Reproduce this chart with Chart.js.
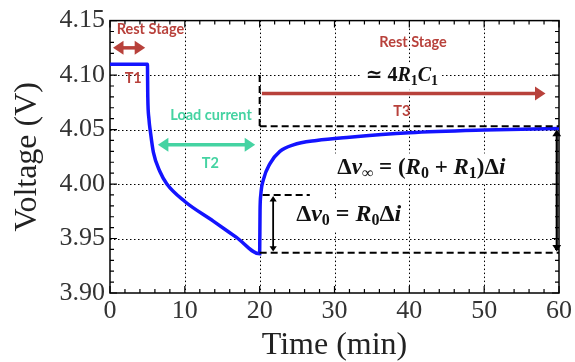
<!DOCTYPE html>
<html>
<head>
<meta charset="utf-8">
<script src="https://cdn.jsdelivr.net/npm/chart.js@4/dist/chart.umd.min.js"></script>
<style>
  html, body { margin: 0; padding: 0; background: #fff; }
  #wrap { width: 575px; height: 362px; }
</style>
</head>
<body>
<div id="wrap"><canvas id="voltChart"></canvas></div>
<script>
/************ DATA ************/
const timeMin = [0, 5, 5.05, 5.2, 5.4, 5.8, 6.7, 7.6, 10, 13.8, 16.9, 20,
  20.05, 20.15, 20.5, 21.4, 22.7, 24.5, 27.6, 32, 40, 50, 60];
const voltage = [4.11, 4.11, 4.08, 4.06, 4.048, 4.029, 4.011, 4.0, 3.984, 3.966, 3.951, 3.936,
  3.975, 3.99, 4.004, 4.019, 4.03, 4.036, 4.04, 4.043, 4.047, 4.0495, 4.051];

const xTicks = [0, 10, 20, 30, 40, 50, 60];
const yTicks = ["3.90", "3.95", "4.00", "4.05", "4.10", "4.15"];

/************ ANNOTATIONS (data units) ************/
const RED = "#b8413b";
const TEAL = "#45d3a2";
const labels = [
  { text: "Rest Stage", t: 5.4, v: 4.142, color: RED },
  { text: "T1", t: 3.1, v: 4.097, color: RED },
  { text: "Load current", t: 13.5, v: 4.063, color: TEAL },
  { text: "T2", t: 13.4, v: 4.019, color: TEAL },
  { text: "Rest Stage", t: 40.5, v: 4.130, color: RED },
  { text: "T3", t: 39.0, v: 4.067, color: RED },
];
const arrows = [
  { t1: 0.4, v1: 4.125, t2: 4.7, v2: 4.125, color: RED, width: 3.5, both: true },
  { t1: 6.4, v1: 4.036, t2: 19.4, v2: 4.036, color: TEAL, width: 3.5, both: true },
  { t1: 20.3, v1: 4.083, t2: 58.2, v2: 4.083, color: RED, width: 3.5, both: false },
  { t1: 21.8, v1: 3.989, t2: 21.8, v2: 3.938, color: "#000", width: 1.8, both: true },
  { t1: 59.7, v1: 4.050, t2: 59.7, v2: 3.938, color: "#000", width: 2.2, both: true },
];
const dashes = [
  [[20, 4.1], [20, 4.053]],
  [[20, 4.053], [60, 4.053]],
  [[20.4, 3.99], [26.7, 3.99]],
  [[20, 3.937], [60, 3.937]],
];
const formulas = [
  { t: 39.0, v: 4.099, size: 20, parts: [["\u2243 4", "n"], ["R", "i"], ["1", "s"], ["C", "i"], ["1", "s"]] },
  { t: 41.6, v: 4.015, size: 23, parts: [["\u0394", "n"], ["v", "i"], ["\u221e", "s"], [" = (", "n"], ["R", "i"], ["0", "s"],
    [" + ", "n"], ["R", "i"], ["1", "s"], [")\u0394", "n"], ["i", "i"]] },
  { t: 31.9, v: 3.972, size: 24, parts: [["\u0394", "n"], ["v", "i"], ["0", "s"], [" = ", "n"], ["R", "i"], ["0", "s"],
    ["\u0394", "n"], ["i", "i"]] },
];

/************ HELPERS ************/
function drawArrow(ctx, x1, y1, x2, y2, color, w, both) {
  const ang = Math.atan2(y2 - y1, x2 - x1);
  const hl = w * 3, hw = w * 2;
  ctx.save();
  ctx.strokeStyle = color;
  ctx.fillStyle = color;
  ctx.lineWidth = w;
  ctx.beginPath();
  ctx.moveTo(x1 + (both ? Math.cos(ang) * hl * 0.8 : 0), y1 + (both ? Math.sin(ang) * hl * 0.8 : 0));
  ctx.lineTo(x2 - Math.cos(ang) * hl * 0.8, y2 - Math.sin(ang) * hl * 0.8);
  ctx.stroke();
  const head = (x, y, a) => {
    ctx.beginPath();
    ctx.moveTo(x, y);
    ctx.lineTo(x - Math.cos(a) * hl - Math.sin(a) * hw, y - Math.sin(a) * hl + Math.cos(a) * hw);
    ctx.lineTo(x - Math.cos(a) * hl + Math.sin(a) * hw, y - Math.sin(a) * hl - Math.cos(a) * hw);
    ctx.closePath();
    ctx.fill();
  };
  head(x2, y2, ang);
  if (both) head(x1, y1, ang + Math.PI);
  ctx.restore();
}

function fontFor(style, size) {
  const fam = '"Liberation Serif", "DejaVu Serif", serif';
  if (style === "s") return "bold " + Math.round(size * 0.68) + "px " + fam;
  if (style === "i") return "bold italic " + size + "px " + fam;
  return "bold " + size + "px " + fam;
}

function drawFormula(ctx, f, cx, cy) {
  ctx.save();
  ctx.textBaseline = "middle";
  let total = 0;
  const widths = f.parts.map(([txt, st]) => {
    ctx.font = fontFor(st, f.size);
    const w = ctx.measureText(txt).width;
    total += w;
    return w;
  });
  ctx.fillStyle = "#fff";
  ctx.fillRect(cx - total / 2 - 4, cy - f.size * 0.62, total + 8, f.size * 1.3);
  let x = cx - total / 2;
  ctx.fillStyle = "#111";
  f.parts.forEach(([txt, st], i) => {
    ctx.font = fontFor(st, f.size);
    ctx.fillText(txt, x, st === "s" ? cy + f.size * 0.28 : cy);
    x += widths[i];
  });
  ctx.restore();
}

/************ PLUGINS ************/
const frameGrid = {
  id: "frameGrid",
  beforeDatasetsDraw(chart) {
    const { ctx, chartArea: a, scales: { x, y } } = chart;
    ctx.save();
    ctx.strokeStyle = "#000";
    ctx.lineWidth = 1;
    ctx.setLineDash([1.5, 2.5]);
    x.ticks.forEach(tk => {
      if (tk.value <= 0 || tk.value >= 60) return;
      const px = Math.round(x.getPixelForValue(tk.value)) + 0.5;
      ctx.beginPath(); ctx.moveTo(px, a.top); ctx.lineTo(px, a.bottom); ctx.stroke();
    });
    y.ticks.forEach(tk => {
      if (tk.value <= 3.9001 || tk.value >= 4.1499) return;
      const py = Math.round(y.getPixelForValue(tk.value)) + 0.5;
      ctx.beginPath(); ctx.moveTo(a.left, py); ctx.lineTo(a.right, py); ctx.stroke();
    });
    ctx.setLineDash([]);
    // inward ticks on all four sides
    ctx.lineWidth = 1.2;
    for (let t = 0; t <= 60; t += 2) {
      const px = x.getPixelForValue(t);
      const len = t % 10 === 0 ? 7 : 4;
      ctx.beginPath();
      ctx.moveTo(px, a.bottom); ctx.lineTo(px, a.bottom - len);
      ctx.moveTo(px, a.top); ctx.lineTo(px, a.top + len);
      ctx.stroke();
    }
    for (let i = 0; i <= 25; i++) {
      const py = y.getPixelForValue(3.9 + i * 0.01);
      const len = i % 5 === 0 ? 7 : 4;
      ctx.beginPath();
      ctx.moveTo(a.left, py); ctx.lineTo(a.left + len, py);
      ctx.moveTo(a.right, py); ctx.lineTo(a.right - len, py);
      ctx.stroke();
    }
    ctx.lineWidth = 1.5;
    ctx.strokeRect(a.left, a.top, a.right - a.left, a.bottom - a.top);
    ctx.restore();
  },
  afterDatasetsDraw(chart) {
    const { ctx, scales: { x, y } } = chart;
    const X = v => x.getPixelForValue(v), Y = v => y.getPixelForValue(v);
    ctx.save();
    ctx.strokeStyle = "#000";
    ctx.lineWidth = 2;
    ctx.setLineDash([7, 4]);
    dashes.forEach(([p, q]) => {
      ctx.beginPath(); ctx.moveTo(X(p[0]), Y(p[1])); ctx.lineTo(X(q[0]), Y(q[1])); ctx.stroke();
    });
    ctx.setLineDash([]);
    ctx.restore();
    arrows.forEach(ar => drawArrow(ctx, X(ar.t1), Y(ar.v1), X(ar.t2), Y(ar.v2), ar.color, ar.width, ar.both));
    ctx.save();
    ctx.textAlign = "center";
    ctx.textBaseline = "middle";
    ctx.font = 'bold 14.5px Lato, "Open Sans", sans-serif';
    labels.forEach(l => {
      ctx.fillStyle = l.color;
      ctx.fillText(l.text, X(l.t), Y(l.v));
    });
    ctx.restore();
    formulas.forEach(f => drawFormula(ctx, f, X(f.t), Y(f.v)));
  },
};

/************ VOLTAGE CHART ************/
const serif = "'Liberation Serif', 'DejaVu Serif', serif";
Chart.defaults.font.family = serif;
const tickFont = { family: serif, size: 26, weight: "normal" };
const voltCtx = document.getElementById("voltChart").getContext("2d");
const voltChart = new Chart(voltCtx, {
  type: "scatter",
  data: {
    datasets: [
      {
        label: "Voltage",
        data: timeMin.map((t, i) => ({ x: t, y: voltage[i] })),
        showLine: true,
        borderColor: "#1414ff",
        borderWidth: 3.5,
        pointRadius: 0,
        cubicInterpolationMode: "monotone",
        fill: false,
      },
    ],
  },
  options: {
    responsive: true,
    maintainAspectRatio: false,
    animation: false,
    layout: { padding: { top: 15, right: 16, left: 0, bottom: 0 } },
    plugins: { legend: { display: false }, tooltip: { enabled: false } },
    scales: {
      x: {
        type: "linear",
        min: 0,
        max: 60,
        afterFit: s => { s.height = 69; },
        afterBuildTicks: s => { s.ticks = xTicks.map(v => ({ value: v })); },
        ticks: { padding: 3, color: "#333", font: tickFont },
        grid: { display: false, drawTicks: false },
        border: { display: false },
        title: {
          display: true,
          text: "Time (min)",
          color: "#222",
          font: { family: serif, size: 32, lineHeight: 1 },
          padding: { top: 0, bottom: 0 },
        },
      },
      y: {
        min: 3.9,
        max: 4.15,
        afterFit: s => { s.width = 110; },
        afterBuildTicks: s => { s.ticks = yTicks.map(v => ({ value: parseFloat(v) })); },
        ticks: {
          padding: 5,
          color: "#333",
          font: tickFont,
          callback: (v, i) => yTicks[i],
        },
        grid: { display: false, drawTicks: false },
        border: { display: false },
        title: {
          display: true,
          text: "Voltage (V)",
          color: "#222",
          font: { family: serif, size: 32, lineHeight: 1 },
          padding: { top: 12, bottom: 0 },
        },
      },
    },
  },
  plugins: [frameGrid],
});
</script>
</body>
</html>
